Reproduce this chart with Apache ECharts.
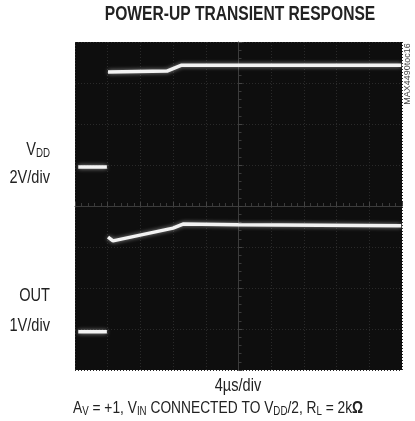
<!DOCTYPE html>
<html>
<head>
<meta charset="utf-8">
<script src="https://cdn.jsdelivr.net/npm/echarts@6/dist/echarts.min.js"></script>
<style>
  html, body { margin: 0; padding: 0; background: #fff; }
  #chart { width: 415px; height: 421px; }
</style>
</head>
<body>
<div id="chart"></div>
<script>
// time in us (0 = screen centre, 4us/div), levels in screen divisions (0 = centre)
var xTicks = [-20, 20, 4];     // min, max, interval
var yTicks = [-4, 4, 1];

var vddPreT = [-19.6, -16.1];
var vddPreV = [0.95, 0.95];
var vddT = [-15.96, -8.75, -7.03, 19.9];
var vddV = [3.27, 3.29, 3.43, 3.43];

var outPreT = [-19.6, -16.1];
var outPreV = [-3.07, -3.07];
var outT = [-15.96, -15.35, -8.01, -6.79, 0, 19.9];
var outV = [-0.76, -0.85, -0.54, -0.44, -0.46, -0.48];

// no narrow face installed, so squeeze Liberation Sans horizontally
var FONT = '"Liberation Sans", Arial, sans-serif';
var NARROW = 0.81;

function zip(t, v) {
    return t.map(function (x, i) { return [x, v[i]]; });
}

var traceStyle = {
    color: '#f2f2f2',
    width: 3.5,
    shadowColor: 'rgba(255,255,255,0.55)',
    shadowBlur: 4
};

function trace(name, t, v) {
    return {
        name: name,
        type: 'line',
        data: zip(t, v),
        symbol: 'none',
        silent: true,
        lineStyle: traceStyle
    };
}

var sub = { fontSize: 12, lineHeight: 12, verticalAlign: 'bottom', fontFamily: FONT, fill: '#222' };

function label(text, x, y, align, size) {
    return {
        type: 'text', x: x, y: y, scaleX: NARROW,
        style: {
            text: text, fontSize: size || 18, fontFamily: FONT, lineHeight: 20,
            fill: '#222', textAlign: align,
            rich: {
                s: sub,
                b: { fontSize: 17, fontWeight: 'bold', fontFamily: FONT, fill: '#222' }
            }
        }
    };
}

var chart = echarts.init(document.getElementById('chart'));
var option = {
    animation: false,
    backgroundColor: '#fff',
    grid: {
        left: 75, top: 42, width: 327, height: 328,
        show: true,
        backgroundColor: '#0e0e0e',
        borderWidth: 0
    },
    xAxis: {
        type: 'value',
        min: xTicks[0], max: xTicks[1], interval: xTicks[2],
        axisLine: { onZero: true, lineStyle: { color: '#3c3c3c', width: 1 } },
        axisTick: { show: true, inside: true, length: 4, lineStyle: { color: '#444' } },
        minorTick: { show: true, splitNumber: 5, length: 3, lineStyle: { color: '#3a3a3a' } },
        axisLabel: { show: false },
        splitLine: { show: true, lineStyle: { color: '#2a2a2a', type: [1, 2] } }
    },
    yAxis: {
        type: 'value',
        min: yTicks[0], max: yTicks[1], interval: yTicks[2],
        axisLine: { onZero: true, lineStyle: { color: '#3c3c3c', width: 1 } },
        axisTick: { show: true, inside: true, length: 4, lineStyle: { color: '#444' } },
        minorTick: { show: true, splitNumber: 5, length: 3, lineStyle: { color: '#3a3a3a' } },
        axisLabel: { show: false },
        splitLine: { show: true, lineStyle: { color: '#2a2a2a', type: [1, 2] } }
    },
    series: [
        trace('VDD pre', vddPreT, vddPreV),
        trace('VDD', vddT, vddV),
        trace('OUT pre', outPreT, outPreV),
        trace('OUT', outT, outV)
    ],
    graphic: [
        {
            type: 'text', x: 240, y: 4, scaleX: 0.78,
            style: { text: 'POWER-UP TRANSIENT RESPONSE', font: 'bold 20px ' + FONT, fill: '#222', textAlign: 'center' }
        },
        label('V{s|DD}', 50, 140, 'right'),
        label('2V/div', 50, 168, 'right'),
        label('OUT', 50, 286, 'right'),
        label('1V/div', 50, 316, 'right'),
        label('4\u00b5s/div', 238, 376, 'center'),
        label('A{s|V} = +1, V{s|IN} CONNECTED TO V{s|DD}/2, R{s|L} = 2k{b|\u03a9}', 73, 398, 'left', 17),
        {
            type: 'text', x: 408, y: 74, rotation: Math.PI / 2,
            style: { text: 'MAX4490toc16', fontSize: 9, fontFamily: FONT, fill: '#444', textAlign: 'center', textVerticalAlign: 'middle' }
        }
    ]
};
chart.setOption(option);
</script>
</body>
</html>
